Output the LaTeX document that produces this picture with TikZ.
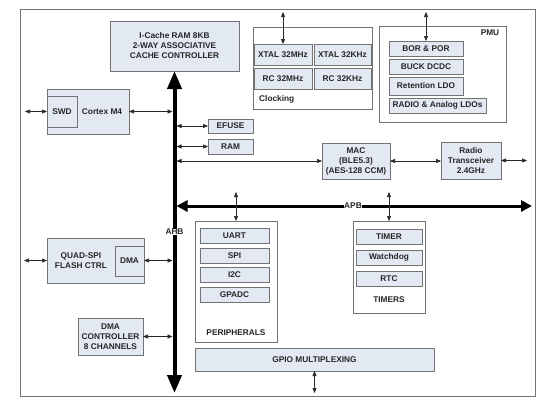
\documentclass[tikz,border=0pt]{standalone}
\usepackage{fontspec}
\setmainfont{Liberation Sans}
\usetikzlibrary{arrows.meta}
\definecolor{blkfill}{HTML}{E3E9F3}
\definecolor{blkline}{HTML}{737373}

\begin{document}
\begin{tikzpicture}[x=1pt,y=-1pt,
        every node/.style={font=\fontsize{8.3}{10}\selectfont\bfseries, text=black!85},
        blk/.style={draw=blkline, fill=blkfill, line width=0.8pt, anchor=north west,
            inner sep=0pt, outer sep=0pt, align=center},
        grp/.style={blk, fill=white},
        lbl/.style={inner sep=0pt, align=center},
        link/.style={<->, >={Triangle[length=5pt,width=4pt]}, line width=0.6pt, black!85},
        bus/.style={line width=4pt, {Triangle[length=18pt,width=14pt]}-{Triangle[length=18pt,width=14pt]}},
        apb/.style={line width=3pt, {Triangle[length=11pt,width=11pt]}-{Triangle[length=11pt,width=11pt]}}]
        \useasboundingbox (0,0) rectangle (553,410);
        \draw[blkline, line width=0.8pt] (20,9.5) rectangle (535,396);
        % cpu side
        \node[blk, minimum width=129pt, minimum height=50pt] (IC) at (110,21) {I-Cache RAM 8KB\\2-WAY ASSOCIATIVE\\CACHE CONTROLLER};
        \node[blk, minimum width=82pt, minimum height=45pt] (CM) at (47,89) {};
        \node[blk, minimum width=30pt, minimum height=31pt] (SWD) at (47,96) {SWD};
        \node[lbl] (CMl) at (102,111.5) {Cortex M4};
        \node[blk, minimum width=97pt, minimum height=45pt] (QS) at (47,238) {};
        \node[blk, minimum width=29pt, minimum height=30pt] (DMA) at (115,246) {DMA};
        \node[lbl] (QSl) at (81,261) {QUAD-SPI\\FLASH CTRL};
        \node[blk, minimum width=65pt, minimum height=37pt] (DC) at (78,318) {DMA\\CONTROLLER\\8 CHANNELS};
        \node[blk, minimum width=45pt, minimum height=14pt] (EF) at (208,119) {EFUSE};
        \node[blk, minimum width=45pt, minimum height=15pt] (RAM) at (208,139) {RAM};
        % clocking
        \node[grp, minimum width=119pt, minimum height=82pt] (CK) at (253,27) {};
        \node[blk, minimum width=58pt, minimum height=21pt] (XH) at (254,44) {XTAL 32MHz};
        \node[blk, minimum width=57pt, minimum height=21pt] (XK) at (314,44) {XTAL 32KHz};
        \node[blk, minimum width=58pt, minimum height=21pt] (RH) at (254,68) {RC 32MHz};
        \node[blk, minimum width=57pt, minimum height=21pt] (RK) at (314,68) {RC 32KHz};
        \node[lbl, anchor=west] (CKl) at (259,99) {Clocking};
        % pmu
        \node[grp, minimum width=127pt, minimum height=96pt] (PMU) at (379,26) {};
        \node[lbl] (PMUl) at (490,33) {PMU};
        \node[blk, minimum width=74pt, minimum height=15pt] (BP) at (389,41) {BOR \& POR};
        \node[blk, minimum width=74pt, minimum height=15pt] (BD) at (389,59) {BUCK DCDC};
        \node[blk, minimum width=74pt, minimum height=18pt] (RL) at (389,77) {Retention LDO};
        \node[blk, minimum width=97pt, minimum height=15pt] (RA) at (389,98) {RADIO \& Analog LDOs};
        % radio
        \node[blk, minimum width=68pt, minimum height=36pt] (MAC) at (322,143) {MAC\\(BLE5.3)\\(AES-128 CCM)};
        \node[blk, minimum width=60pt, minimum height=37pt] (RT) at (441,142) {Radio\\Transceiver\\2.4GHz};
        % peripherals
        \node[grp, minimum width=82pt, minimum height=121pt] (PE) at (195,221) {};
        \node[blk, minimum width=69pt, minimum height=15pt] (UA) at (200,228) {UART};
        \node[blk, minimum width=69pt, minimum height=15pt] (SP) at (200,248) {SPI};
        \node[blk, minimum width=69pt, minimum height=15pt] (IT) at (200,267) {I2C};
        \node[blk, minimum width=69pt, minimum height=15pt] (AD) at (200,287) {GPADC};
        \node[lbl] (PEl) at (236,333) {PERIPHERALS};
        \node[grp, minimum width=72pt, minimum height=92pt] (TM) at (353,221) {};
        \node[blk, minimum width=66pt, minimum height=15pt] (TI) at (356,229) {TIMER};
        \node[blk, minimum width=66pt, minimum height=15pt] (WD) at (356,250) {Watchdog};
        \node[blk, minimum width=66pt, minimum height=15pt] (RC) at (356,271) {RTC};
        \node[lbl] (TMl) at (389,300) {TIMERS};
        \node[blk, minimum width=239pt, minimum height=23pt] (GP) at (195,348) {GPIO MULTIPLEXING};
        % bus ends and free ends
        \coordinate (ahbB) at (174.5,393);
        \coordinate (ahbL) at (172.5,0);
        \coordinate (ahbR) at (176.5,0);
        \coordinate (apbL) at (176.5,206);
        \coordinate (apbR) at (532,206);
        \coordinate (swdX) at (25,111.5);
        \coordinate (qsX) at (24,260.5);
        \coordinate (rtX) at (527,160.5);
        \coordinate (ckX) at (283,12);
        \coordinate (pmX) at (426,12);
        \coordinate (peX) at (236,192);
        \coordinate (tmX) at (389,192);
        \coordinate (gpX) at (314.5,393);
        \draw[bus] (IC.south) -- (ahbB);
        \draw[apb] (apbL) -- (apbR);
        \node[fill=white, inner sep=0.5pt] (AHB) at (174.5,232) {AHB};
        \node[fill=white, inner sep=0.5pt] (APB) at (353,206) {APB};
        \path[link]
        (swdX) edge (SWD.west)
        (CM.east) edge (CM.east -| ahbL)
        (qsX) edge (QS.west)
        (QS.east) edge (QS.east -| ahbL)
        (DC.east) edge (DC.east -| ahbL)
        (EF.west -| ahbR) edge (EF.west)
        (RAM.west -| ahbR) edge (RAM.west)
        (MAC.west -| ahbR) edge (MAC.west)
        (MAC.east) edge (MAC.east -| RT.west)
        (RT.east) edge (rtX)
        (ckX) edge (XH.north)
        (pmX) edge (BP.north)
        (peX) edge (PE.north)
        (tmX) edge (TM.north)
        (GP.south) edge (gpX);
    \end{tikzpicture}
\end{document}
